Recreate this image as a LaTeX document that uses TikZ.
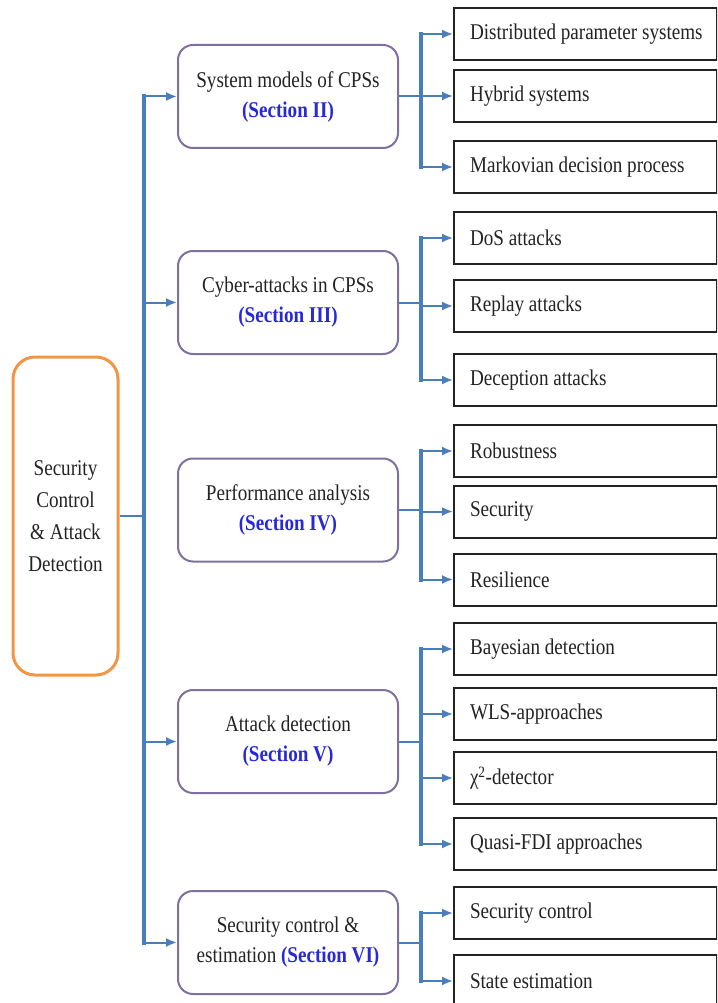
\documentclass[tikz,border=0pt]{standalone}
\usepackage{fontspec}
\setmainfont[FakeStretch=0.85]{Liberation Serif}
\usetikzlibrary{arrows.meta,calc}

\definecolor{linkblue}{RGB}{74,126,187}
\definecolor{rootorange}{RGB}{240,150,70}
\definecolor{secpurple}{RGB}{128,112,160}
\definecolor{secblue}{RGB}{40,40,215}
\definecolor{inkgray}{RGB}{35,35,35}

\newcommand\sectag[1]{\textcolor{secblue}{\textbf{(#1)}}}
% topic labels: one line, flush left in a fixed-width slot
\newcommand\topic[1]{\makebox[231pt][l]{#1}}

\begin{document}
\begin{tikzpicture}[x=1pt,y=-1pt,
  every node/.style={font=\fontsize{22.5}{30}\selectfont, text=inkgray},
  rootbox/.style={draw=rootorange, line width=3pt, rounded corners=22pt,
    minimum width=105, minimum height=318, align=center, inner sep=0pt,
    font=\fontsize{22.5}{32}\selectfont},
  secbox/.style={draw=secpurple, line width=2pt, rounded corners=15pt,
    minimum width=220, minimum height=103, align=center, inner sep=0pt},
  leafbox/.style={draw=inkgray, line width=2pt, minimum height=52,
    inner xsep=16pt, inner ysep=0pt, anchor=west},
  trunkline/.style={draw=linkblue, line width=4pt, line cap=rect},
  link/.style={draw=linkblue, line width=2pt},
  arr/.style={link, -{Latex[length=11pt,width=9pt]}}
]
\useasboundingbox (0,0) rectangle (717,1003);
\fill[white] (0,0) rectangle (717,1003);
\clip (0,0) rectangle (717,1003);

% root and section boxes
\node[rootbox] (root) at (65.5,516) {Security\\Control\\\& Attack\\Detection};
\node[secbox] (s1) at (288,96.5) {System models of CPSs\\\sectag{Section II}};
\node[secbox] (s2) at (288,302.5) {Cyber-attacks in CPSs\\\sectag{Section III}};
\node[secbox] (s3) at (288,510) {Performance analysis\\\sectag{Section IV}};
\node[secbox] (s4) at (288,741.5) {Attack detection\\\sectag{Section V}};
\node[secbox] (s5) at (288,942.5) {Security control \&\\estimation \sectag{Section VI}};

% leaf boxes
\node[leafbox] (l11) at (453,34) {\topic{Distributed parameter systems}};
\node[leafbox] (l12) at (453,96) {\topic{Hybrid systems}};
\node[leafbox] (l13) at (453,167) {\topic{Markovian decision process}};
\node[leafbox] (l21) at (453,238) {\topic{DoS attacks}};
\node[leafbox] (l22) at (453,306) {\topic{Replay attacks}};
\node[leafbox] (l23) at (453,380) {\topic{Deception attacks}};
\node[leafbox] (l31) at (453,451) {\topic{Robustness}};
\node[leafbox] (l32) at (453,511.5) {\topic{Security}};
\node[leafbox] (l33) at (453,579.5) {\topic{Resilience}};
\node[leafbox] (l41) at (453,649) {\topic{Bayesian detection}};
\node[leafbox] (l42) at (453,714) {\topic{WLS-approaches}};
\node[leafbox] (l43) at (453,778) {\topic{χ\textsuperscript{2}-detector}};
\node[leafbox] (l44) at (453,844) {\topic{Quasi-FDI approaches}};
\node[leafbox] (l51) at (453,913) {\topic{Security control}};
\node[leafbox] (l52) at (453,981) {\topic{State estimation}};

% connector columns
\coordinate (tx) at (144,0);
\coordinate (bx) at (421,0);

% trunk from the root to the sections
\draw[link] (root.east) -- (root.east -| tx);
\draw[trunkline] (s1.west -| tx) -- (s5.west -| tx);
\foreach \s in {s1,s2,s4,s5}
  \draw[arr] (\s.west -| tx) -- (\s.west);

% branches from each section to its topics
\foreach \s/\first/\last/\leaves in {
    s1/l11/l13/{l11,l12,l13},
    s2/l21/l23/{l21,l22,l23},
    s3/l31/l33/{l31,l32,l33},
    s4/l41/l44/{l41,l42,l43,l44},
    s5/l51/l52/{l51,l52}}{
  \draw[link] (\s.east) -- (\s.east -| bx);
  \draw[trunkline] (\first.west -| bx) -- (\last.west -| bx);
  \foreach \l in \leaves
    \draw[arr] (\l.west -| bx) -- (\l.west);
}
\end{tikzpicture}
\end{document}
